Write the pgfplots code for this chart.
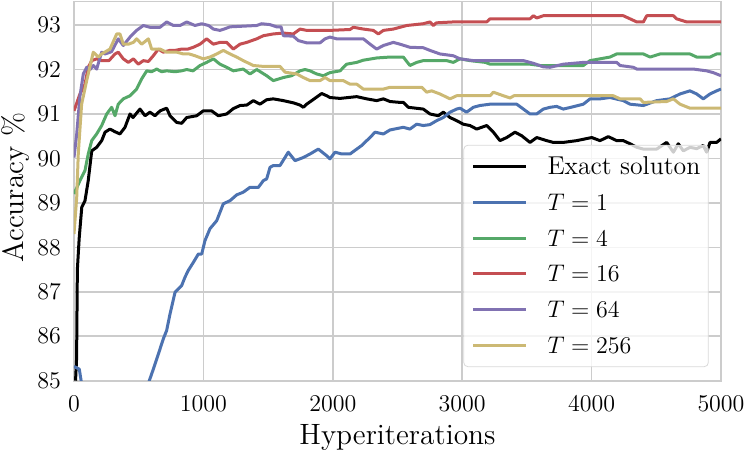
\documentclass[border=0pt]{standalone}
\usepackage{pgfplots}
\pgfplotsset{compat=1.18}
\definecolor{sbblue}{HTML}{4C72B0}
\definecolor{sbgreen}{HTML}{55A868}
\definecolor{sbred}{HTML}{C44E52}
\definecolor{sbpurple}{HTML}{8172B2}
\definecolor{sbyellow}{HTML}{CCB974}
\definecolor{gridgray}{HTML}{CCCCCC}
\begin{document}
\begin{tikzpicture}
\begin{axis}[
  at={(0,0)}, anchor=south west,
  scale only axis,
  width=323.5pt, height=189.6pt,
  xmin=0, xmax=5000, ymin=85, ymax=93.53,
  xtick={0,1000,2000,3000,4000,5000},
  ytick={85,86,87,88,89,90,91,92,93},
  /pgf/number format/set thousands separator={},
  major tick length=0pt,
  grid=major,
  grid style={gridgray, line width=0.8pt},
  axis line style={gridgray, line width=0.9pt},
  tick label style={font=\fontsize{11.75}{13}\selectfont},
  xticklabel style={yshift=-4pt},
  yticklabel style={xshift=-3pt},
  xlabel={Hyperiterations},
  ylabel={Accuracy \%},
  label style={font=\fontsize{14.7}{17}\selectfont},
  xlabel style={at={(axis description cs:0.5,-0.149)}, anchor=center},
  ylabel style={at={(axis description cs:-0.0905,0.509)}, anchor=center},
  legend cell align=left,
  legend image code/.code={\draw[#1] (0pt,0pt) -- (26.5pt,0pt);},
  legend style={at={(0.981,0.036)}, anchor=south east,
    draw=black!15, fill=white, fill opacity=0.8, text opacity=1,
    rounded corners=2pt, font=\fontsize{12.9}{15}\selectfont,
    nodes={inner xsep=0pt, inner ysep=0pt, text height=9pt, text depth=1pt},
    row sep=7.9pt, inner xsep=4pt, inner ysep=5.6pt,
    /tikz/every odd column/.append style={column sep=9.85pt}},
  every axis plot/.append style={line width=1.5pt, line join=round},
]
\addplot[black] coordinates {
(12,85.0)(20,85.5)(26,87.5)(40,88.2)(60,88.9)(85,89.05)(110,89.5)(137,90.17)(175,90.25)(214,90.4)(240,90.59)(278,90.66)(317,90.6)(355,90.55)(394,90.7)(433,91.0)(456,90.92)(510,91.11)(549,90.96)(587,91.04)(626,90.96)(665,91.07)(716,91.13)(742,90.96)(794,90.81)(832,90.79)(871,90.92)(948,90.96)(999,91.07)(1064,91.07)(1115,90.96)(1180,91.0)(1231,91.12)(1283,91.19)(1335,91.2)(1386,91.3)(1437,91.22)(1489,91.32)(1540,91.34)(1618,91.3)(1695,91.25)(1747,91.2)(1772,91.15)(1798,91.22)(1837,91.3)(1914,91.46)(1953,91.41)(1978,91.37)(2056,91.35)(2120,91.37)(2185,91.39)(2262,91.34)(2339,91.3)(2391,91.34)(2442,91.28)(2519,91.26)(2545,91.26)(2584,91.15)(2699,91.11)(2751,91.0)(2815,90.96)(2854,91.04)(2906,90.92)(2957,90.85)(3008,90.77)(3060,90.74)(3112,90.66)(3189,90.74)(3241,90.59)(3292,90.4)(3344,90.47)(3408,90.59)(3460,90.51)(3524,90.36)(3576,90.47)(3653,90.4)(3704,90.36)(3781,90.36)(3885,90.4)(4001,90.47)(4065,90.4)(4129,90.49)(4194,90.4)(4245,90.4)(4297,90.33)(4349,90.25)(4400,90.21)(4503,90.21)(4580,90.36)(4632,90.14)(4670,90.33)(4709,90.17)(4760,90.25)(4812,90.22)(4863,90.29)(4889,90.14)(4915,90.36)(4966,90.36)(5000,90.44)
};
\addlegendentry{Exact soluton}
\addplot[sbblue] coordinates {
(0,85.32)(41,85.26)(55,85.0)(70,84.0)(500,84.1)(582,85.0)(613,85.26)(652,85.6)(690,85.94)(716,86.13)(742,86.5)(781,86.99)(832,87.14)(858,87.33)(883,87.48)(922,87.66)(961,87.85)(987,87.85)(1012,88.15)(1051,88.42)(1103,88.6)(1154,88.98)(1206,89.05)(1257,89.18)(1308,89.24)(1360,89.35)(1425,89.35)(1463,89.5)(1489,89.54)(1515,89.8)(1540,89.84)(1592,89.84)(1656,90.14)(1708,89.95)(1772,90.02)(1824,90.1)(1888,90.21)(1953,90.06)(1978,89.99)(2017,90.14)(2069,90.1)(2133,90.1)(2185,90.21)(2223,90.29)(2262,90.4)(2288,90.47)(2326,90.59)(2391,90.55)(2442,90.64)(2545,90.7)(2596,90.66)(2648,90.77)(2699,90.74)(2750,90.76)(2803,90.85)(2854,90.92)(2906,91.04)(2957,91.11)(2983,91.13)(3034,91.04)(3086,91.15)(3137,91.19)(3215,91.22)(3421,91.22)(3473,91.11)(3524,91.0)(3575,91.0)(3627,91.11)(3679,91.15)(3730,91.17)(3781,91.11)(3840,91.15)(3936,91.22)(3988,91.34)(4065,91.34)(4142,91.37)(4245,91.3)(4297,91.22)(4400,91.19)(4503,91.3)(4606,91.34)(4683,91.45)(4760,91.52)(4812,91.45)(4863,91.34)(4915,91.45)(4966,91.52)(5000,91.56)
};
\addlegendentry{$T=1$}
\addplot[sbgreen] coordinates {
(0,89.2)(46,89.5)(85,89.73)(110,90.1)(137,90.4)(175,90.55)(214,90.74)(253,91.0)(291,91.15)(317,90.96)(342,91.22)(381,91.34)(433,91.41)(484,91.56)(523,91.79)(562,91.97)(600,91.95)(639,92.01)(677,91.95)(716,91.97)(780,91.95)(832,91.97)(871,92.0)(920,91.97)(974,92.09)(1025,92.16)(1077,92.24)(1128,92.12)(1180,92.05)(1231,91.97)(1308,92.01)(1360,91.9)(1412,92.0)(1489,91.86)(1540,91.75)(1618,91.82)(1682,91.86)(1747,91.97)(1785,92.0)(1824,91.97)(1875,91.9)(1927,91.86)(1978,91.93)(2056,91.97)(2107,92.12)(2185,92.16)(2236,92.21)(2339,92.26)(2442,92.28)(2545,92.28)(2596,92.09)(2648,92.16)(2699,92.2)(2880,92.2)(2931,92.16)(2983,92.24)(3060,92.2)(3180,92.16)(3215,92.12)(3524,92.12)(3601,92.09)(3936,92.09)(3988,92.2)(4065,92.24)(4142,92.28)(4194,92.35)(4400,92.35)(4452,92.28)(4529,92.35)(4760,92.35)(4812,92.28)(4915,92.28)(4966,92.35)(5000,92.35)
};
\addlegendentry{$T=4$}
\addplot[sbred] coordinates {
(0,91.07)(46,91.45)(85,91.67)(110,92.05)(137,92.2)(175,92.24)(214,92.2)(270,92.2)(317,92.35)(342,92.39)(381,92.24)(420,92.16)(459,92.24)(497,92.12)(536,92.2)(575,92.18)(613,92.31)(652,92.46)(690,92.39)(740,92.43)(780,92.43)(832,92.46)(880,92.46)(922,92.5)(974,92.57)(1025,92.69)(1077,92.57)(1128,92.61)(1180,92.61)(1231,92.46)(1283,92.57)(1335,92.61)(1412,92.69)(1463,92.76)(1540,92.8)(1618,92.82)(1695,92.8)(1747,92.91)(1798,92.88)(1978,92.88)(2133,92.9)(2159,92.95)(2236,92.91)(2313,92.88)(2352,92.8)(2391,92.88)(2468,92.91)(2571,92.99)(2699,93.03)(2751,93.07)(2777,92.99)(2800,93.05)(2931,93.07)(3189,93.07)(3215,93.14)(3524,93.14)(3550,93.21)(3576,93.16)(3627,93.21)(4245,93.21)(4297,93.14)(4349,93.07)(4400,93.07)(4426,93.21)(4632,93.21)(4657,93.14)(4735,93.07)(5000,93.07)
};
\addlegendentry{$T=16$}
\addplot[sbpurple] coordinates {
(0,90.02)(21,90.55)(46,91.4)(72,91.9)(98,92.05)(124,92.0)(150,92.09)(175,92.01)(214,92.39)(240,92.35)(290,92.4)(342,92.69)(381,92.54)(433,92.73)(484,92.88)(536,92.99)(587,92.95)(665,92.95)(716,93.07)(768,92.99)(820,92.99)(871,93.07)(935,92.99)(987,93.03)(1040,92.99)(1077,92.91)(1128,92.88)(1160,92.91)(1206,92.96)(1412,92.99)(1450,93.03)(1515,93.01)(1566,92.96)(1600,92.96)(1618,92.76)(1695,92.75)(1734,92.65)(1798,92.6)(1901,92.6)(1940,92.69)(1978,92.73)(2030,92.69)(2236,92.69)(2288,92.57)(2339,92.46)(2391,92.54)(2468,92.61)(2519,92.57)(2596,92.5)(2699,92.49)(2751,92.43)(2828,92.35)(2931,92.31)(2983,92.24)(3086,92.2)(3473,92.2)(3550,92.14)(3627,92.06)(3679,92.05)(3781,92.12)(3936,92.16)(4194,92.16)(4220,92.09)(4323,92.05)(4349,92.01)(4786,92.01)(4889,91.97)(4940,91.93)(5000,91.86)
};
\addlegendentry{$T=64$}
\addplot[sbyellow] coordinates {
(0,88.3)(21,89.12)(33,90.1)(59,91.22)(98,91.75)(149,92.39)(188,92.28)(214,92.35)(278,92.46)(330,92.8)(355,92.8)(381,92.57)(420,92.57)(459,92.61)(484,92.69)(523,92.57)(575,92.69)(600,92.46)(665,92.46)(716,92.39)(794,92.39)(845,92.35)(890,92.35)(935,92.31)(999,92.24)(1051,92.28)(1103,92.35)(1154,92.43)(1206,92.35)(1257,92.28)(1308,92.2)(1386,92.09)(1463,92.07)(1592,92.07)(1631,91.94)(1721,91.9)(1772,91.82)(1824,91.75)(1901,91.75)(1940,91.82)(1978,91.75)(2081,91.75)(2133,91.67)(2185,91.67)(2236,91.56)(2391,91.56)(2442,91.6)(2687,91.6)(2725,91.49)(2764,91.52)(2828,91.45)(2906,91.34)(2957,91.41)(3215,91.41)(3241,91.49)(3318,91.41)(3370,91.36)(3400,91.41)(4168,91.41)(4220,91.34)(4375,91.34)(4400,91.26)(4580,91.28)(4632,91.34)(4683,91.22)(4760,91.13)(5000,91.13)
};
\addlegendentry{$T=256$}
\end{axis}
\pgfresetboundingbox
\path[use as bounding box] (-37pt,-37.15pt) rectangle (336.5pt,190.35pt);
\end{tikzpicture}
\end{document}
